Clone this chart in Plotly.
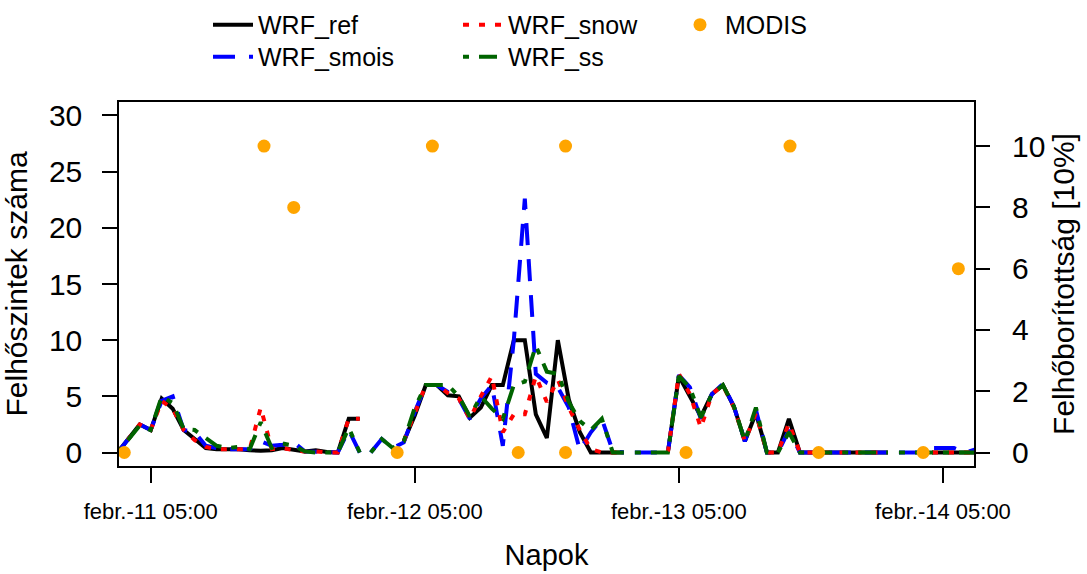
import plotly.graph_objects as go

# Model output: hourly values, hours counted from febr.-11 00:00
hours = list(range(2, 81))
# each forecast run starts a new line segment at these hours
run_start_hours = [25, 49, 73]

wrf_ref = [
    0, 1.25, 2.5, 2.0, 4.8, 3.9, 2.0, 1.2, 0.4, 0.3,          # 2-11
    0.3, 0.3, 0.2, 0.15, 0.2, 0.4, 0.25, 0.1, 0.2, 0.05,      # 12-21
    0.0, 3.0, 3.0, None, None, None, 1.0, 3.3, 6.0, 6.0,      # 22-31
    5.1, 5.0, 3.1, 4.0, 6.0, 6.0, 10.0, 10.0, 3.4, 1.3,       # 32-41
    10.0, 4.7, 1.8, 0, 0, 0, 0, None, None, None,             # 42-51
    0, 6.8, 5.0, 3.2, 5.2, 6.0, 4.1, 1.0, 3.5, 0,             # 52-61
    0, 3.0, 0, 0, 0, 0, 0, 0, 0, 0,                           # 62-71
    0, None, None, None, 0, 0, 0, 0, 0,                       # 72-80
]
wrf_smois = [
    0, 1.25, 2.5, 2.0, 4.6, 5.0, 2.0, 1.8, 0.6, 0.4,
    0.3, 0.3, 0.3, 1.0, 0.6, 0.7, 0.9, 0.1, 0.05, 0,
    0, 2.0, 0, 0, 1.2, 0.4, 0.9, 3.6, 6.0, 6.0,
    5.4, 4.8, 3.0, 4.8, 6.0, 0.6, 10.0, 22.6, 7.0, 6.2,
    5.8, 4.0, 0.2, 1.8, 3.0, 0.1, 0, 0, 0, 0,
    0, 6.9, 5.8, 3.0, 5.2, 6.1, 4.1, 1.0, 3.8, 0,
    0, 2.0, 0, 0, 0, 0, 0, 0, 0, 0,
    0, 0, 0, 0, 0.4, 0.4, 0.4, 0, 0.3,
]
wrf_snow = [
    0, 1.25, 2.5, 2.0, 4.6, 3.9, 2.0, 1.1, 0.5, 0.3,
    0.3, 0.3, 0.3, 4.0, 0.3, 0.4, 0.2, 0.1, 0.1, 0,
    0, 3.0, 3.0, None, None, None, 1.0, 3.5, 6.0, 6.0,
    5.3, 4.8, 3.0, 5.0, 6.8, 1.8, 3.4, 3.4, 6.8, 4.5,
    6.5, 4.0, 2.0, 0.3, 0, 0, 0, None, None, None,
    0, 7.0, 5.2, 2.2, 5.2, 6.0, 4.0, 1.0, 3.5, 0,
    0, 2.6, 0, 0, 0, 0, 0, 0, 0, 0,
    0, None, None, None, 0, 0, 0, 0, 0,
]
wrf_ss = [
    0, 1.25, 2.4, 2.0, 5.0, 4.4, 2.1, 2.0, 1.3, 0.6,
    0.4, 0.5, 0.3, 2.7, 0.4, 0.8, 0.6, 0.1, 0, 0,
    0, 2.2, 0, 0, 1.2, 0.4, 1.0, 4.0, 6.0, 6.0,
    6.0, 5.0, 3.2, 5.0, 3.9, 3.0, 6.0, 6.3, 9.5, 7.2,
    7.0, 4.5, 2.8, 2.0, 3.0, 0, 0, 0, 0, 0,
    0, 6.8, 5.8, 3.1, 5.2, 6.0, 4.1, 1.0, 4.0, 0,
    0, 1.8, 0, 0, 0, 0, 0, 0, 0, 0,
    0, 0, 0, 0, 0, 0, 0, 0, 0,
]

# MODIS overpasses (hours from febr.-11 00:00) and cloud cover in tenths
modis_hours = [2.6, 15.3, 18.0, 27.4, 30.6, 38.4, 42.7, 42.7, 53.65, 63.1, 65.7, 75.2, 78.4]
modis_cover = [0, 10, 8, 0, 10, 0, 10, 0, 0, 10, 0, 0, 6]

x_tick_hours = [5, 29, 53, 77]
x_tick_labels = ["febr.-11 05:00", "febr.-12 05:00", "febr.-13 05:00", "febr.-14 05:00"]
left_ticks = [0, 5, 10, 15, 20, 25, 30]
right_ticks = [0, 2, 4, 6, 8, 10]

FONT = "Liberation Sans, Arial, sans-serif"


def split_runs(xs, ys):
    """Insert a break before every new forecast run so runs are not joined."""
    out_x, out_y = [], []
    for x, y in zip(xs, ys):
        if x in run_start_hours:
            out_x.append(x - 0.5)
            out_y.append(None)
        out_x.append(x)
        out_y.append(y)
    return out_x, out_y


fig = go.Figure()

series = [
    ("WRF_ref", wrf_ref, "#000000", "solid", "legend", 195),
    ("WRF_smois", wrf_smois, "#0000FF", "22px,14px", "legend2", 195),
    ("WRF_snow", wrf_snow, "#FF0000", "6px,10px", "legend", 162),
    ("WRF_ss", wrf_ss, "#006400", "6px,10px,18px,10px", "legend2", 162),
]
for name, vals, color, dash, leg, lw in series:
    xs, ys = split_runs(hours, vals)
    fig.add_trace(go.Scatter(
        x=xs, y=ys, name=name, mode="lines", connectgaps=False,
        line=dict(color=color, width=4, dash=dash),
        legend=leg, legendwidth=lw,
    ))

fig.add_trace(go.Scatter(
    x=modis_hours, y=modis_cover, name="MODIS", mode="markers", yaxis="y2",
    marker=dict(color="#FFA500", size=13), cliponaxis=False, legend="legend",
))

axis_common = dict(
    showgrid=False, zeroline=False, ticks="outside", ticklen=15, tickwidth=1.5,
    tickcolor="black", color="black",
)

legend_common = dict(
    orientation="h", xanchor="left", yanchor="middle",
    font=dict(size=25), bgcolor="rgba(0,0,0,0)", itemwidth=40,
)

fig.update_layout(
    width=1087, height=574,
    margin=dict(l=119, r=113, t=102, b=108, autoexpand=False),
    paper_bgcolor="white", plot_bgcolor="white",
    font=dict(family=FONT, color="black"),
    xaxis=dict(
        **axis_common, range=[2.12, 79.82], tickvals=x_tick_hours, ticktext=x_tick_labels,
        tickfont=dict(size=22), ticklabelstandoff=10,
        showline=True, mirror=True, linecolor="black", linewidth=1.5,
        title=dict(text="Napok", font=dict(size=29), standoff=22),
    ),
    yaxis=dict(
        **axis_common, range=[-1.2, 31.2], tickvals=left_ticks,
        tickfont=dict(size=30), ticklabelstandoff=14,
        showline=True, mirror=True, linecolor="black", linewidth=1.5,
        title=dict(text="Felhőszintek száma", font=dict(size=30), standoff=15),
    ),
    yaxis2=dict(
        **axis_common, overlaying="y", side="right", range=[-0.44, 11.44],
        tickvals=right_ticks, tickfont=dict(size=30), ticklabelstandoff=16,
        showline=False,
        title=dict(text="Felhőborítottság [10%]", font=dict(size=30), standoff=8),
    ),
    legend=dict(**legend_common, x=0.1041, y=1.2117),
    legend2=dict(**legend_common, x=0.1041, y=1.1237),
)

fig.write_html("out.html")
